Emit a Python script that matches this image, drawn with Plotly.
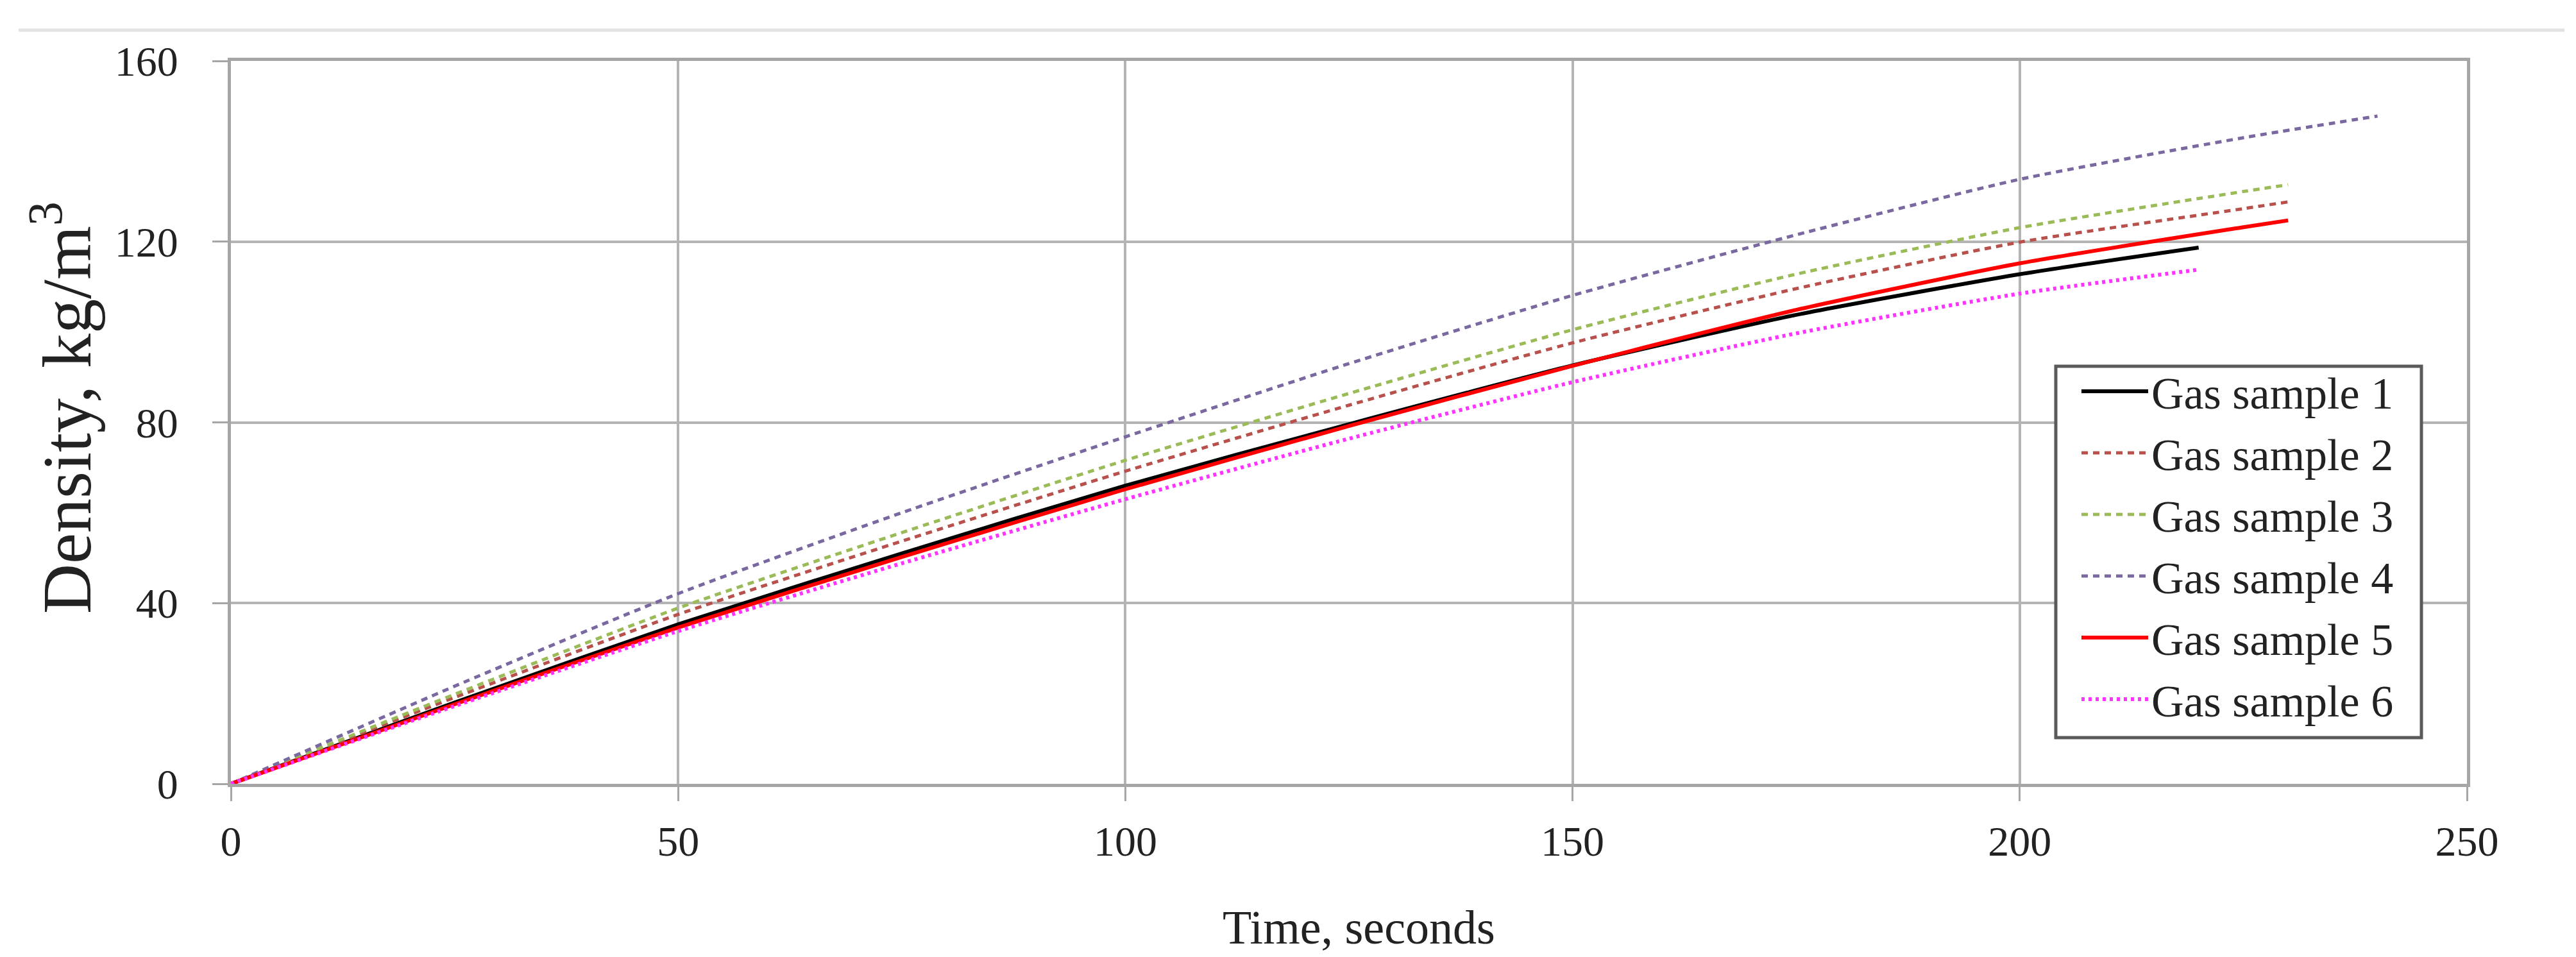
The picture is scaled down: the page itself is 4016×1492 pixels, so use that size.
import plotly.graph_objects as go

# ---- data ----
t_s1 = [0, 25, 50, 75, 100, 125, 150, 175, 200, 220]
v_s1 = [0, 18.0, 35.3, 51.0, 66.0, 79.6, 92.6, 103.8, 112.8, 118.7]

t_s2 = [0, 25, 50, 75, 100, 125, 150, 175, 200, 225, 230]
v_s2 = [0, 19.1, 37.5, 53.7, 69.2, 83.8, 97.6, 109.6, 119.9, 127.3, 128.8]

t_s3 = [0, 25, 50, 75, 100, 125, 150, 175, 200, 225, 230]
v_s3 = [0, 19.8, 38.9, 55.6, 71.6, 86.4, 100.5, 112.8, 123.1, 131.1, 132.6]

t_s4 = [0, 25, 50, 75, 100, 125, 150, 175, 200, 225, 240]
v_s4 = [0, 21.6, 42.1, 60.0, 76.8, 93.0, 108.1, 121.5, 133.8, 143.0, 147.8]

t_s5 = [0, 25, 50, 75, 100, 125, 150, 175, 200, 225, 230]
v_s5 = [0, 17.6, 34.6, 50.2, 65.2, 79.2, 92.5, 104.9, 115.2, 123.2, 124.7]

t_s6 = [0, 25, 50, 75, 100, 125, 150, 175, 200, 220]
v_s6 = [0, 17.2, 33.8, 48.8, 63.0, 76.4, 88.9, 99.7, 108.5, 113.8]

names = ["Gas sample 1", "Gas sample 2", "Gas sample 3",
         "Gas sample 4", "Gas sample 5", "Gas sample 6"]

x_ticks = [0, 50, 100, 150, 200, 250]
y_ticks = [0, 40, 80, 120, 160]

series = [(t_s1, v_s1), (t_s2, v_s2), (t_s3, v_s3),
          (t_s4, v_s4), (t_s5, v_s5), (t_s6, v_s6)]

styles = [
    dict(color="#000000", width=6, dash="solid"),
    dict(color="#b8504c", width=5, dash="10px,8px"),
    dict(color="#9bbb59", width=5, dash="10px,8px"),
    dict(color="#7a68a0", width=5, dash="10px,8px"),
    dict(color="#ff0000", width=6, dash="solid"),
    dict(color="#ff33ff", width=6, dash="5px,6px"),
]

FONT = "Liberation Serif"

fig = go.Figure()
for i, ((tx, vy), nm, st) in enumerate(zip(series, names, styles)):
    fig.add_trace(go.Scatter(
        x=tx, y=vy, name=nm, mode="lines",
        line=dict(color=st["color"], width=st["width"], dash=st["dash"], shape="spline", smoothing=0.6),
        legendgroup=f"g{i}",
    ))

W, H = 4016, 1492
L, R, T, B = 352, 178, 87, 278
pw, ph = W - L - R, H - T - B

def px_x(p):
    return (p - L) / pw

def px_y(p):
    return (H - B - p) / ph

grid = "#b4b4b4"
axl = "#a6a6a6"

fig.update_layout(
    width=W, height=H,
    margin=dict(l=L, r=R, t=T, b=B),
    paper_bgcolor="white", plot_bgcolor="white",
    font=dict(family=FONT, size=66, color="#222222"),
    showlegend=True,
    legend=dict(
        x=px_x(3232), y=px_y(550), xanchor="left", yanchor="top",
        bgcolor="rgba(0,0,0,0)", borderwidth=0,
        font=dict(family=FONT, size=70, color="#222222"),
        tracegroupgap=2, traceorder="grouped",
        itemwidth=104,
    ),
    xaxis=dict(
        range=[0, 250], tickvals=x_ticks, ticktext=[str(v) for v in x_ticks],
        showgrid=True, gridcolor=grid, gridwidth=4,
        showline=True, linecolor=axl, linewidth=5, mirror=True,
        zeroline=False,
        ticks="outside", ticklen=22, tickwidth=3, tickcolor=axl,
        ticklabelstandoff=6,
        tickfont=dict(family=FONT, size=66, color="#222222"),
    ),
    yaxis=dict(
        range=[0, 160], tickvals=y_ticks, ticktext=[str(v) for v in y_ticks],
        showgrid=True, gridcolor=grid, gridwidth=4,
        showline=True, linecolor=axl, linewidth=5, mirror=True,
        zeroline=False,
        ticks="outside", ticklen=24, tickwidth=3, tickcolor=axl,
        ticklabelstandoff=40,
        tickfont=dict(family=FONT, size=66, color="#222222"),
    ),
    annotations=[
        dict(text="Time, seconds", xref="paper", yref="paper",
             x=px_x(2110), y=px_y(1438), xanchor="center", yanchor="middle",
             showarrow=False, font=dict(family=FONT, size=74, color="#222222")),
        dict(text="Density, kg/m<sup>3</sup>", xref="paper", yref="paper",
             x=px_x(88), y=px_y(628), xanchor="center", yanchor="middle",
             textangle=-90, showarrow=False,
             font=dict(family=FONT, size=108, color="#222222")),
    ],
    shapes=[
        dict(type="line", xref="paper", yref="paper",
             x0=px_x(21), x1=px_x(3990), y0=px_y(39), y1=px_y(39),
             line=dict(color="#e2e2e2", width=5)),
        # legend frame
        dict(type="rect", xref="paper", yref="paper", layer="above",
             x0=px_x(3197), x1=px_x(3767), y0=px_y(1142), y1=px_y(563),
             fillcolor="white", line=dict(color="#5a5a5a", width=5)),
    ],
)

fig.write_html("out.html")
